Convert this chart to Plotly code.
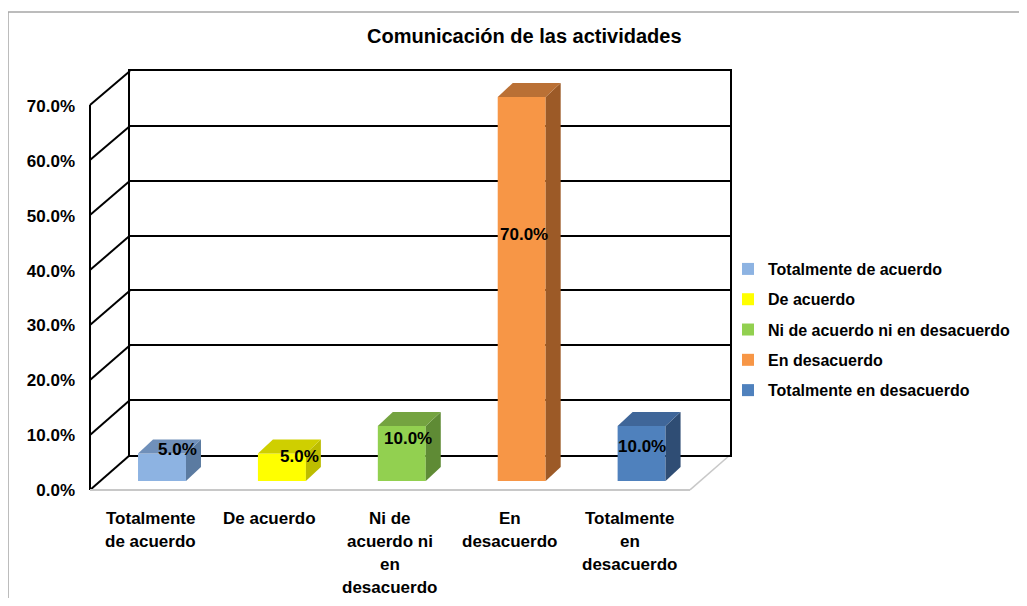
import plotly.graph_objects as go

# ---- data ----
categories = ["Totalmente de acuerdo", "De acuerdo", "Ni de acuerdo ni en desacuerdo",
              "En desacuerdo", "Totalmente en desacuerdo"]
axis_labels = [["Totalmente", "de acuerdo"], ["De acuerdo"],
               ["Ni de", "acuerdo ni", "en", "desacuerdo"],
               ["En", "desacuerdo"], ["Totalmente", "en", "desacuerdo"]]
values = [0.05, 0.05, 0.10, 0.70, 0.10]
front_colors = ["#8DB3E2", "#FFFF00", "#92D050", "#F79646", "#4F81BD"]
side_colors = ["#5B7BA1", "#BDBD00", "#5F8B35", "#9C5A27", "#2F4D74"]
top_colors = ["#7090BA", "#CFCF00", "#74A340", "#BA7035", "#3F6699"]
tick_vals = [0.0, 0.1, 0.2, 0.3, 0.4, 0.5, 0.6, 0.7]
title = "Comunicación de las actividades"

PAGE_OFF = 8            # browser body margin
VIEW_H = 614            # effective page height that ends up in the 606 px picture
SY = VIEW_H / 606
W, H = 1027 - 2 * PAGE_OFF, VIEW_H - 2 * PAGE_OFF
FONT = "Liberation Sans"


def px(x):
    return (x - PAGE_OFF) / W


def py(y):
    return 1 - (y * SY - PAGE_OFF) / H


# geometry (reference pixels)
bar_base, bar_scale = 481, 384 / 0.70
bx0, bstep = 162, 119.9
dx, dy = 15 / bstep, 14 / bar_scale
hw = 0.2
ylo, yhi = -0.02, 0.76
front_base, wall_base, wall_top = 490, 455, 71
front_x, wall_x0, wall_x1, floor_x1 = 90, 130, 730, 690

fig = go.Figure()

# back wall subplot (x, y) - drawn first
fig.add_trace(go.Scatter(x=[None], y=[None], xaxis="x", yaxis="y", showlegend=False,
                         hoverinfo="skip"))

# bars
for i, (c, v) in enumerate(zip(categories, values)):
    fig.add_trace(go.Bar(x=[i], y=[v], name=c, marker=dict(color=front_colors[i], line=dict(width=0)),
                         width=2 * hw, xaxis="x2", yaxis="y2", legendgroup=c,
                         hoverinfo="skip"))
for i, v in enumerate(values):
    fig.add_trace(go.Scatter(
        x=[i + hw, i + hw + dx, i + hw + dx, i + hw, i + hw],
        y=[0, dy, v + dy, v, 0], fill="toself", fillcolor=side_colors[i],
        mode="lines", line=dict(width=0), xaxis="x2", yaxis="y2",
        showlegend=False, hoverinfo="skip"))
    fig.add_trace(go.Scatter(
        x=[i - hw, i - hw + dx, i + hw + dx, i + hw, i - hw],
        y=[v, v + dy, v + dy, v, v], fill="toself", fillcolor=top_colors[i],
        mode="lines", line=dict(width=0), xaxis="x2", yaxis="y2",
        showlegend=False, hoverinfo="skip"))

shapes = []
# frame (left and top edges of the chart area)
shapes.append(dict(type="line", xref="paper", yref="paper", x0=px(8), y0=py(12),
                   x1=1, y1=py(12), line=dict(color="#A6A6A6", width=1.5), layer="below"))
shapes.append(dict(type="line", xref="paper", yref="paper", x0=px(8), y0=py(12),
                   x1=px(8), y1=0, line=dict(color="#A6A6A6", width=1.5), layer="below"))


def yfront(t):
    return front_base - (front_base - 105) / 0.7 * t


def ywall(t):
    return wall_base - (wall_base - wall_top) / 0.7 * t


for t in tick_vals:
    shapes.append(dict(type="line", xref="paper", yref="paper",
                       x0=px(front_x), y0=py(yfront(t)), x1=px(wall_x0), y1=py(ywall(t)),
                       line=dict(color="black", width=2), layer="below"))
shapes.append(dict(type="line", xref="paper", yref="paper",
                   x0=px(front_x), y0=py(yfront(0)), x1=px(front_x), y1=py(yfront(0.7)),
                   line=dict(color="black", width=2), layer="below"))
shapes.append(dict(type="line", xref="paper", yref="paper",
                   x0=px(front_x), y0=py(front_base), x1=px(floor_x1), y1=py(front_base),
                   line=dict(color="#C8C8C8", width=2), layer="below"))
shapes.append(dict(type="line", xref="paper", yref="paper",
                   x0=px(floor_x1), y0=py(front_base), x1=px(wall_x1), y1=py(wall_base),
                   line=dict(color="#C8C8C8", width=1.5), layer="below"))

annotations = []
annotations.append(dict(text=title, x=px(524), y=py(36), xref="paper", yref="paper",
                        showarrow=False, xanchor="center", yanchor="middle",
                        borderpad=0, borderwidth=0,
                        font=dict(family=FONT, size=20, color="black", weight="bold")))
# data labels
lab_dx = [0.13, 0.15, 0.05, 0.02, 0.0]
lab_y = [0.0565, 0.044, 0.0766, 0.45, 0.062]
for i, v in enumerate(values):
    annotations.append(dict(text=f"{v*100:.1f}%", x=i + lab_dx[i], y=lab_y[i], xref="x2", yref="y2",
                            showarrow=False, xanchor="center", yanchor="middle",
                            borderpad=0, borderwidth=0,
                            font=dict(family=FONT, size=17, color="black", weight="bold")))
# category labels
for i, lines in enumerate(axis_labels):
    for k, ln in enumerate(lines):
        annotations.append(dict(text=ln, x=i, xshift=-12, y=py(519 + 23 * k), xref="x2", yref="paper",
                                showarrow=False, xanchor="center", yanchor="middle",
                                borderpad=0, borderwidth=0,
                                font=dict(family=FONT, size=17, color="black", weight="bold")))

fig.update_layout(
    width=W, height=H, margin=dict(l=0, r=0, t=0, b=0),
    paper_bgcolor="white", plot_bgcolor="rgba(0,0,0,0)",
    barmode="overlay", showlegend=True,
    xaxis=dict(domain=[px(wall_x0), px(wall_x1)], range=[0, 1], showgrid=False, zeroline=False,
               showticklabels=False, showline=True, mirror=True, linecolor="black", linewidth=2,
               anchor="y"),
    yaxis=dict(domain=[py(wall_base), py(wall_top)], range=[0, 0.7], tickvals=tick_vals,
               showgrid=True, gridcolor="black", gridwidth=2, zeroline=False,
               showticklabels=False, showline=True, mirror=True, linecolor="black", linewidth=2,
               anchor="x"),
    xaxis2=dict(domain=[px(bx0 - 0.5 * bstep), px(bx0 + 4.5 * bstep)], range=[-0.5, 4.5],
                showgrid=False, zeroline=False, showticklabels=False, showline=False,
                anchor="y2"),
    yaxis2=dict(domain=[py(bar_base - ylo * bar_scale), py(bar_base - yhi * bar_scale)],
                range=[ylo, yhi], tickvals=tick_vals, tickformat=".1%",
                showgrid=False, zeroline=False, showline=False, ticks="",
                anchor="free", position=px(front_x), ticklabelshift=9, ticklabelstandoff=15,
                tickfont=dict(family=FONT, size=17, color="black", weight="bold")),
    legend=dict(x=px(728), y=py(252), xanchor="left", yanchor="top",
                font=dict(family=FONT, size=16, color="black", weight="bold"),
                tracegroupgap=6.5, bgcolor="rgba(0,0,0,0)"),
    shapes=shapes, annotations=annotations,
)

fig.write_html("out.html")
